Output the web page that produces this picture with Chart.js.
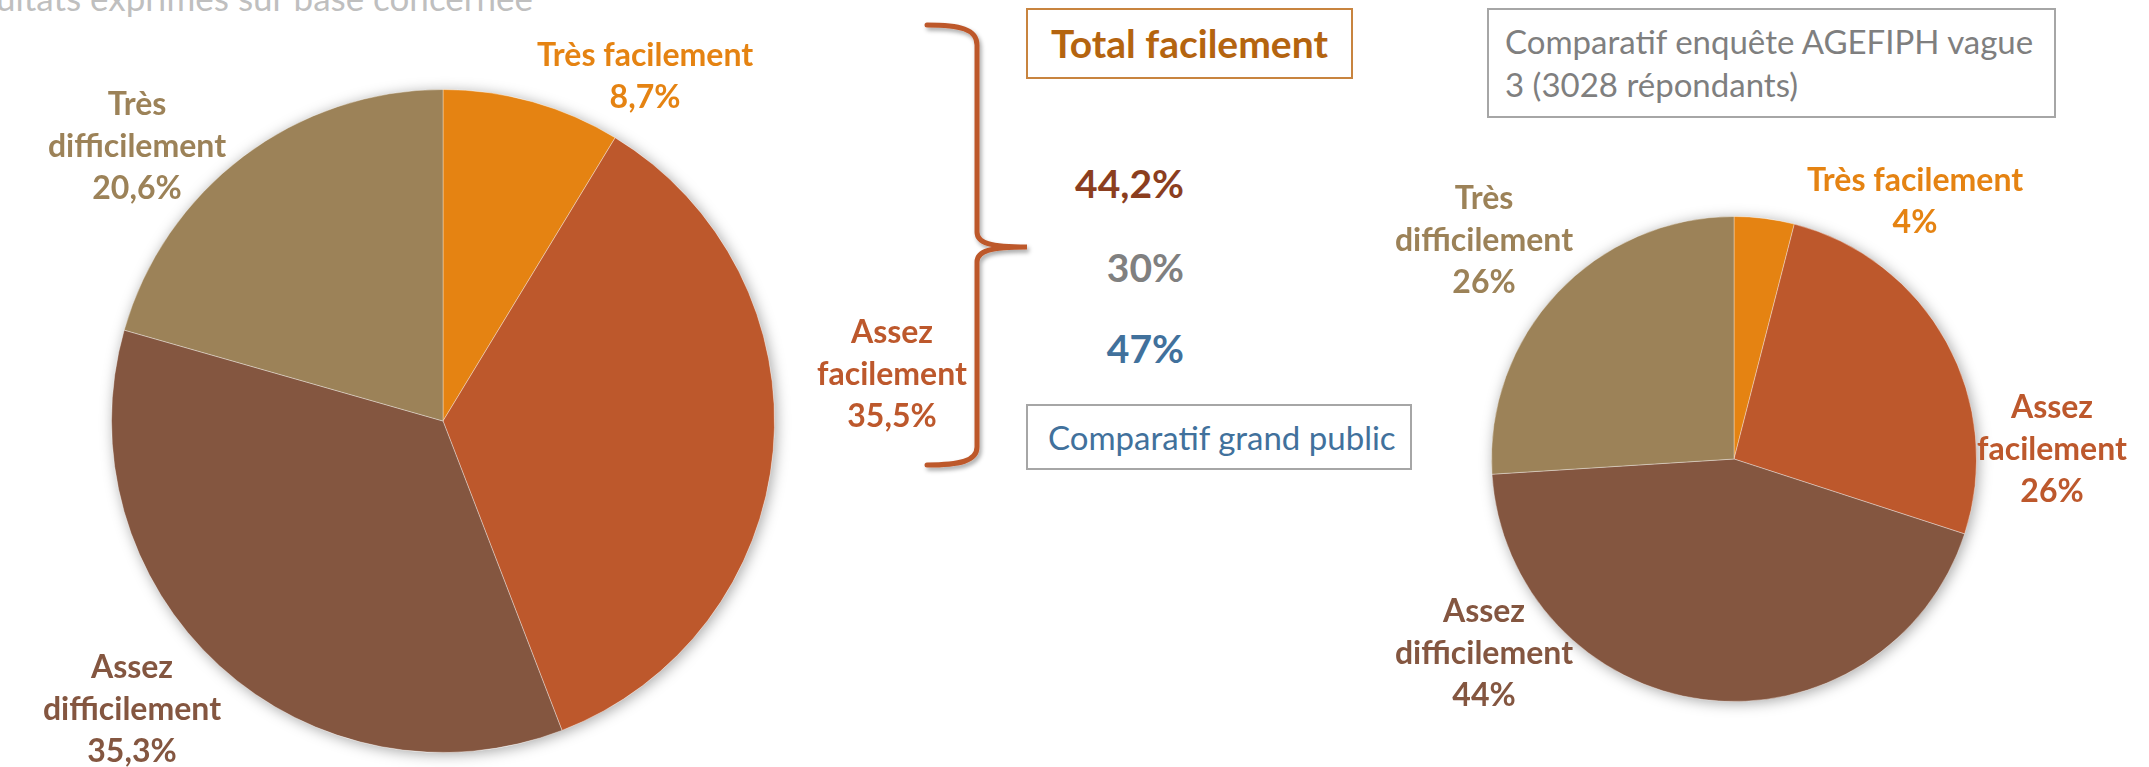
<!DOCTYPE html>
<html lang="fr">
<head>
<meta charset="utf-8">
<title>Total facilement</title>
<script src="https://cdn.jsdelivr.net/npm/chart.js@4.4.1/dist/chart.umd.min.js"></script>
<style>
  html, body { margin: 0; padding: 0; background: #fff; }
  body {
    width: 2149px; height: 767px; position: relative; overflow: hidden;
    font-family: Lato, 'Noto Sans', sans-serif;
  }
  .abs  { position: absolute; white-space: nowrap; }
  .box  { position: absolute; box-sizing: border-box; background: #fff; }

  #note    { right: 1616px; top: -20px; font-size: 35px; color: #bfbfbf; line-height: 35px; }

  #totalBox { left: 1026px; top: 8px; width: 327px; height: 71px;
              border: 2px solid #c8843f; color: #b4640f;
              font-size: 39px; font-weight: bold; line-height: 66px; text-align: center; }

  .total   { right: 965px; font-size: 39px; font-weight: bold; line-height: 44px; height: 44px; }

  #gpBox   { left: 1026px; top: 404px; width: 386px; height: 66px;
             border: 2px solid #a6a6a6; color: #41719c;
             font-size: 33px; line-height: 62px; padding-left: 20px; }

  #agBox   { left: 1487px; top: 8px; width: 569px; height: 110px;
             border: 2px solid #a6a6a6; color: #7f7f7f;
             font-size: 33px; line-height: 43px; padding: 10px 0 0 16px; white-space: nowrap; }

  #leftWrap  { left: 0; top: 0; width: 1000px; height: 767px; }
  #rightWrap { left: 1360px; top: 0; width: 789px; height: 767px; }
  #brace     { position: absolute; left: 900px; top: 0; }
</style>
</head>
<body>

<div id="note" class="abs">Résultats exprimés sur base concernée</div>

<div id="leftWrap" class="abs"><canvas id="leftPie"></canvas></div>
<div id="rightWrap" class="abs"><canvas id="rightPie"></canvas></div>

<svg id="brace" width="160" height="490" viewBox="900 0 160 490">
  <defs>
    <filter id="sh" x="-30%" y="-10%" width="160%" height="120%">
      <feDropShadow dx="2" dy="3" stdDeviation="2" flood-color="#000" flood-opacity="0.35"/>
    </filter>
  </defs>
  <path d="M 927 25 C 960 25, 977 29, 977 45 L 977 232 C 977 243, 990 247, 1027 247
           C 990 247, 977 251, 977 262 L 977 447 C 977 461, 960 465, 927 465"
        fill="none" stroke="#bd582c" stroke-width="5" stroke-linecap="round" filter="url(#sh)"/>
</svg>

<div id="totalBox" class="box">Total facilement</div>
<div id="total0" class="abs total"></div>
<div id="total1" class="abs total"></div>
<div id="total2" class="abs total"></div>
<div id="gpBox" class="box">Comparatif grand public</div>
<div id="agBox" class="box">Comparatif enquête AGEFIPH vague<br>3 (3028 répondants)</div>

<script>
// ── Data ─────────────────────────────────────────────────────
const CATEGORIES     = [['Très facilement'], ['Assez', 'facilement'],
                        ['Assez', 'difficilement'], ['Très', 'difficilement']];
const ENQUETE_VALUES = [8.7, 35.5, 35.3, 20.6];   // left pie
const AGEFIPH_VALUES = [4, 26, 44, 26];           // right pie (vague 3)
const TOTAL_VALUES   = [44.2, 30, 47];            // enquête, AGEFIPH, grand public

// ── Styles ───────────────────────────────────────────────────
const SLICE_COLORS = ['#e58312', '#bd582c', '#845640', '#9c8258'];
const TOTAL_COLORS = ['#8b3e1f', '#808080', '#41719c'];
const TOTAL_TOPS   = [161, 245, 326];

// label block centres, relative to the pie centre
const LEFT_LABEL_OFFSETS  = [[202, -344], [449, -46], [-311, 289], [-306, -274]];
const RIGHT_LABEL_OFFSETS = [[181, -257], [318, -9], [-250, 195], [-250, -218]];

const fmtPct = v => v.toLocaleString('fr-FR', { maximumFractionDigits: 1 }) + '%';

// ── Plugins ──────────────────────────────────────────────────
// soft shadow under the whole pie (drawn once, so no seams between slices)
const pieShadow = {
  id: 'pieShadow',
  beforeDatasetsDraw(chart) {
    const arc = chart.getDatasetMeta(0).data[0];
    const ctx = chart.ctx;
    ctx.save();
    ctx.shadowColor   = 'rgba(0,0,0,0.35)';
    ctx.shadowBlur    = 14;
    ctx.shadowOffsetX = 2;
    ctx.shadowOffsetY = 2;
    ctx.fillStyle = '#fff';
    ctx.beginPath();
    ctx.arc(arc.x, arc.y, arc.outerRadius, 0, Math.PI * 2);
    ctx.fill();
    ctx.restore();
  }
};

// category + value labels outside the slices
const pieLabels = {
  id: 'pieLabels',
  afterDatasetsDraw(chart, args, opts) {
    const ctx    = chart.ctx;
    const meta   = chart.getDatasetMeta(0);
    const values = chart.data.datasets[0].data;
    ctx.save();
    ctx.font = `bold ${opts.size}px Lato, "Noto Sans", sans-serif`;
    ctx.textAlign = 'center';
    ctx.textBaseline = 'middle';
    meta.data.forEach((arc, i) => {
      const lines = [...chart.data.labels[i], fmtPct(values[i])];
      const [dx, dy] = opts.offsets[i];
      ctx.fillStyle = SLICE_COLORS[i];
      lines.forEach((t, k) => {
        ctx.fillText(t, arc.x + dx, arc.y + dy + (k - (lines.length - 1) / 2) * opts.lineHeight);
      });
    });
    ctx.restore();
  }
};

function makePie(id, values, padding, offsets) {
  return new Chart(document.getElementById(id), {
    type: 'pie',
    data: {
      labels: CATEGORIES,
      datasets: [{
        data: values,
        backgroundColor: SLICE_COLORS,
        borderColor: 'rgba(255,255,255,0.35)',
        borderWidth: 1,
        hoverOffset: 0
      }]
    },
    options: {
      responsive: true, maintainAspectRatio: false,
      animation: false,
      layout: { padding },
      plugins: {
        legend:  { display: false },
        tooltip: { enabled: false },
        pieLabels: { offsets, size: 32, lineHeight: 42 }
      }
    },
    plugins: [pieShadow, pieLabels]
  });
}

// left pie: centre (443, 421), r 332 ; right pie: centre (1734, 459), r 243
makePie('leftPie',  ENQUETE_VALUES, { left: 111, top: 89,  right: 225, bottom: 14 }, LEFT_LABEL_OFFSETS);
makePie('rightPie', AGEFIPH_VALUES, { left: 131, top: 216, right: 172, bottom: 65 }, RIGHT_LABEL_OFFSETS);

// ── Total facilement column ─────────────────────────────────
TOTAL_VALUES.forEach((v, i) => {
  const el = document.getElementById('total' + i);
  el.textContent = fmtPct(v);
  el.style.color = TOTAL_COLORS[i];
  el.style.top   = TOTAL_TOPS[i] + 'px';
});
</script>
</body>
</html>
